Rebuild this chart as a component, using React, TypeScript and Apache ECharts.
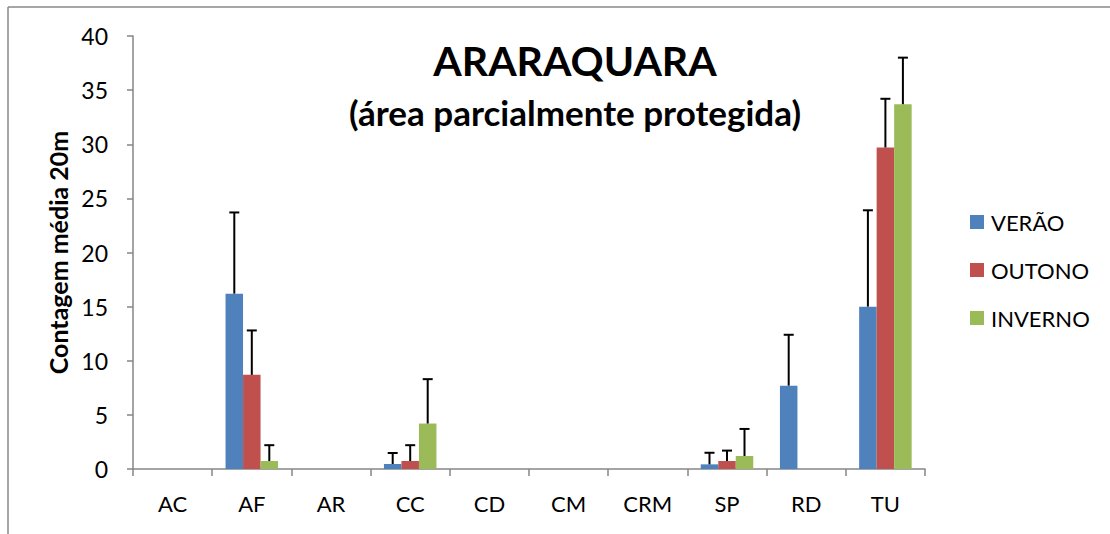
import React, { useEffect, useRef } from "react";
import * as echarts from "echarts";

const categories = ["AC", "AF", "AR", "CC", "CD", "CM", "CRM", "SP", "RD", "TU"];
const seriesNames = ["VERÃO", "OUTONO", "INVERNO"];
const verao = [0, 16.2, 0, 0.46, 0, 0, 0, 0.43, 7.7, 15.0];
const outono = [0, 8.7, 0, 0.74, 0, 0, 0, 0.74, 0, 29.7];
const inverno = [0, 0.74, 0, 4.2, 0, 0, 0, 1.2, 0, 33.7];
const veraoErrTop = [0, 23.7, 0, 1.48, 0, 0, 0, 1.5, 12.4, 23.9];
const outonoErrTop = [0, 12.8, 0, 2.2, 0, 0, 0, 1.7, 0, 34.2];
const invernoErrTop = [0, 2.2, 0, 8.3, 0, 0, 0, 3.7, 0, 38.0];
const yTicks = { min: 0, max: 40, interval: 5 };

const colors = ["#4F81BD", "#C0504D", "#9BBB59"];
const FONT = "Lato, 'Open Sans', sans-serif";
const CAT_GAP = 0.337;

export default function App() {
  const ref = useRef<HTMLDivElement>(null);
  useEffect(() => {
    if (!ref.current) return;
    const chart = echarts.init(ref.current, null, { renderer: "svg" });
    const values = [verao, outono, inverno];
    const errs = [veraoErrTop, outonoErrTop, invernoErrTop];

    const barSeries = seriesNames.map((name, i) => ({
      name,
      type: "bar",
      data: values[i],
      barGap: "0%",
      barCategoryGap: (CAT_GAP * 100).toFixed(1) + "%",
      itemStyle: { color: colors[i] },
      z: 2,
    }));

    const errSeries = seriesNames.map((name, i) => ({
      name: name + "_err",
      type: "custom",
      z: 3,
      data: values[i]
        .map((v, k) => [k, v, errs[i][k]])
        .filter((d) => d[1] > 0),
      renderItem: (params: any, api: any) => {
        const x = api.value(0);
        const v = api.value(1);
        const e = api.value(2);
        const p = api.coord([x, v]);
        const pe = api.coord([x, e]);
        const cw = api.size([1, 0])[0];
        const bw = (cw * (1 - CAT_GAP)) / 3;
        const cx = p[0] + (i - 1) * bw;
        const style = { stroke: "#000", lineWidth: 2 };
        return {
          type: "group",
          children: [
            { type: "line", shape: { x1: cx, y1: p[1], x2: cx, y2: pe[1] }, style },
            { type: "line", shape: { x1: cx - 5, y1: pe[1], x2: cx + 5, y2: pe[1] }, style },
          ],
        };
      },
    }));

    chart.setOption({
      animation: false,
      backgroundColor: "#fff",
      textStyle: { fontFamily: FONT },
      grid: { left: 133, right: 185, top: 36, bottom: 65 },
      title: [
        {
          text: "ARARAQUARA",
          left: 570,
          textAlign: "center",
          top: 35,
          textStyle: { fontSize: 41, fontWeight: "bold", color: "#000", fontFamily: FONT },
        },
        {
          text: "(área parcialmente protegida)",
          left: 570,
          textAlign: "center",
          top: 89,
          textStyle: { fontSize: 35, fontWeight: "bold", color: "#000", fontFamily: FONT },
        },
      ],
      legend: {
        data: seriesNames,
        orient: "vertical",
        left: 965,
        top: 206,
        itemWidth: 14,
        itemHeight: 14,
        itemGap: 26,
        icon: "rect",
        textStyle: { fontSize: 22, color: "#000", fontFamily: FONT, padding: [0, 0, 0, 2] },
      },
      xAxis: {
        type: "category",
        data: categories,
        axisLine: { lineStyle: { color: "#868686", width: 1.5 } },
        axisTick: { show: true, length: 7, lineStyle: { color: "#868686", width: 1.5 } },
        axisLabel: { fontSize: 22, color: "#000", margin: 23, fontFamily: FONT },
      },
      yAxis: {
        type: "value",
        min: yTicks.min,
        max: yTicks.max,
        interval: yTicks.interval,
        name: "Contagem média 20m",
        nameLocation: "middle",
        nameGap: 62,
        nameRotate: 90,
        nameTextStyle: { fontSize: 25, fontWeight: "bold", color: "#000", fontFamily: FONT },
        axisLine: { show: true, lineStyle: { color: "#868686", width: 1.5 } },
        axisTick: { show: true, length: 6, lineStyle: { color: "#868686", width: 1.5 } },
        axisLabel: { fontSize: 23, color: "#000", margin: 25, fontFamily: FONT },
        splitLine: { show: false },
      },
      graphic: [
        { type: "line", shape: { x1: 8, y1: 7, x2: 1110, y2: 7 }, style: { stroke: "#888", lineWidth: 1.5 } },
        { type: "line", shape: { x1: 8, y1: 7, x2: 8, y2: 534 }, style: { stroke: "#888", lineWidth: 1.5 } },
      ],
      series: [...barSeries, ...errSeries],
    });
    return () => chart.dispose();
  }, []);
  return (
    <div
      ref={ref}
      style={{ position: "fixed", left: 0, top: 0, width: 1110, height: 534, background: "#fff" }}
    />
  );
}
